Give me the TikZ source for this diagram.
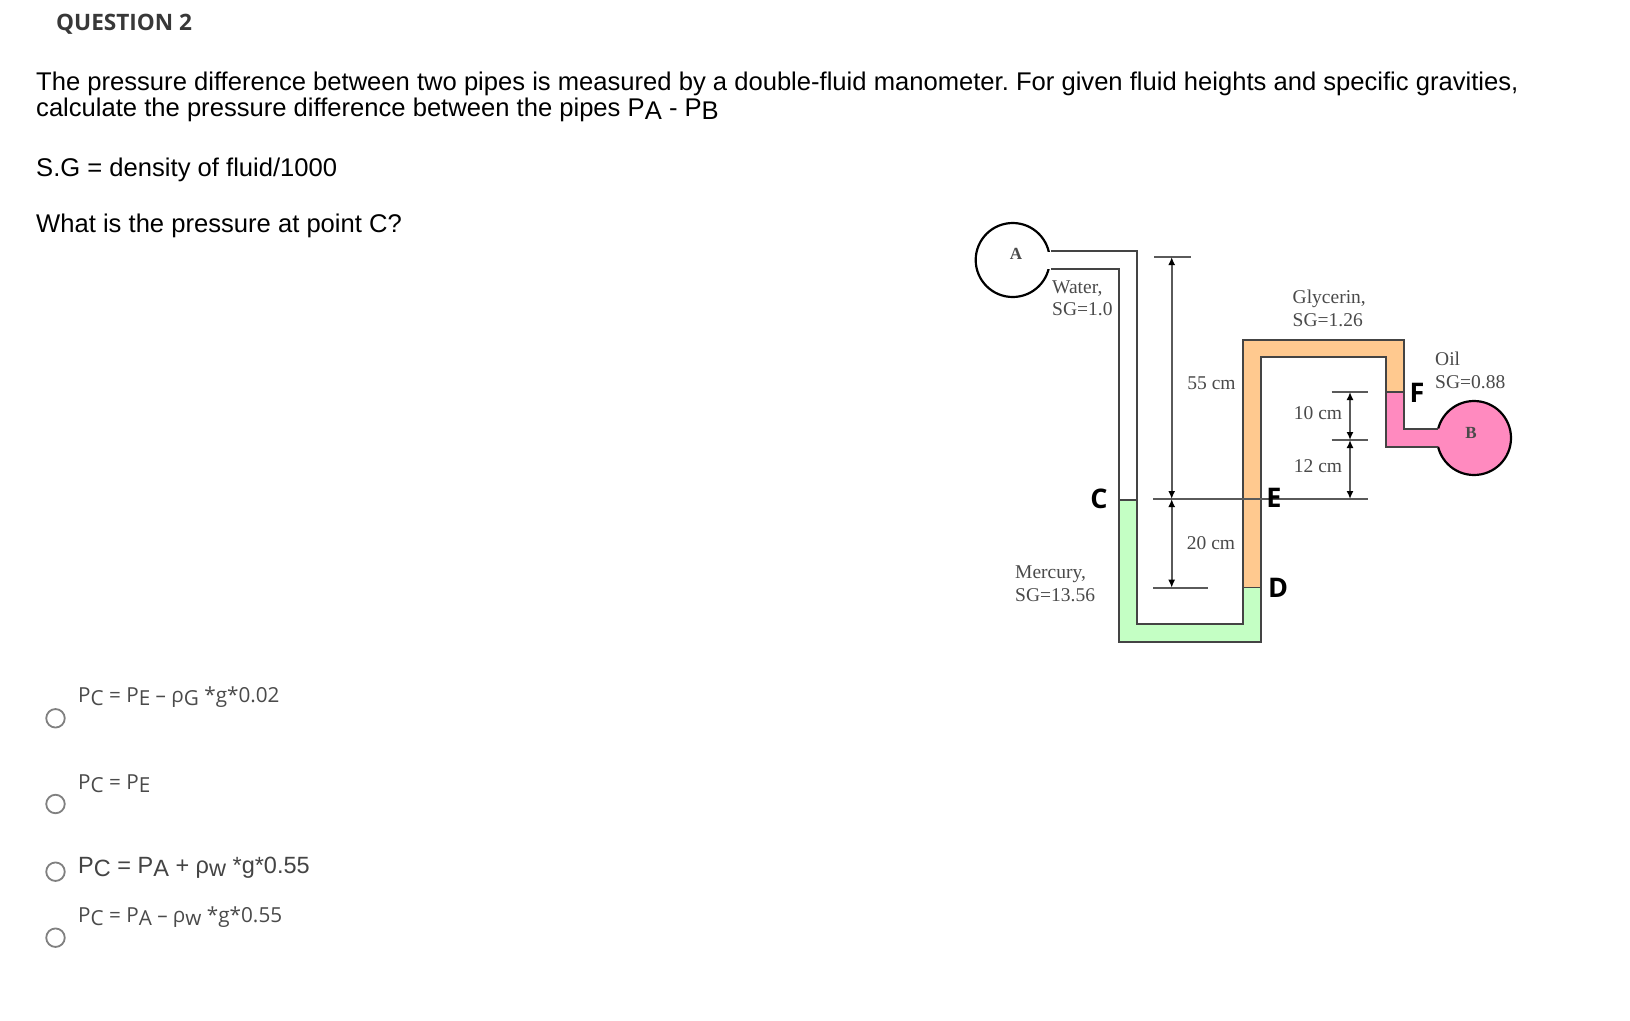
\documentclass[tikz,border=0pt]{standalone}
\usepackage{fontspec}
\setmainfont{Liberation Sans}
\newfontfamily\optfont{Open Sans}
\newfontfamily\serfont{Liberation Serif}
\usetikzlibrary{arrows.meta}
\definecolor{pipegray}{HTML}{444444}
\definecolor{dimgray}{HTML}{5A5A5A}
\definecolor{txtgray}{HTML}{4A4A4A}
\definecolor{mercury}{HTML}{C4FFC4}
\definecolor{glycerin}{HTML}{FFC98F}
\definecolor{oilpink}{HTML}{FF8ABF}
\newcommand{\lowered}[1]{\raisebox{-3.5pt}{#1}}
\frenchspacing
\begin{document}
\begin{tikzpicture}[x=1pt,y=-1pt]
		\tikzstyle{body}=[anchor=base west,inner sep=0pt,font=\fontsize{25.6}{30}\selectfont];
		\tikzstyle{opt}=[anchor=base west,inner sep=0pt,text=txtgray,font=\optfont\fontsize{20.7}{24}\selectfont];
		\tikzstyle{small}=[anchor=base,inner sep=0pt,align=left,text=txtgray,font=\serfont\fontsize{19.5}{22}\selectfont];
		\tikzstyle{smallw}=[small,anchor=base west];
		\tikzstyle{point}=[anchor=base,inner sep=0pt,font=\optfont\bfseries\fontsize{27}{30}\selectfont];
		\tikzstyle{bulb}=[circle,draw=black,line width=2.2pt,minimum size=74pt,inner sep=0pt];
		\tikzstyle{pipe}=[draw=pipegray,line width=1.8pt,line join=miter];
		\tikzstyle{dimen}=[dimgray,line width=1.7pt];
		\tikzstyle{dimarrow}=[dimen,{Latex[length=8pt,width=7pt,black]}-{Latex[length=8pt,width=7pt,black]}];
		\tikzstyle{radio}=[circle,draw=gray,line width=1.8pt,minimum size=18.5pt,inner sep=0pt];

		\useasboundingbox (0,0) rectangle (1630,1020);
		\fill[white] (0,0) rectangle (1630,1020);

		% question text
		\node[anchor=base west,inner sep=0pt,text=black!78,font=\optfont\bfseries\fontsize{22.6}{26}\selectfont] (title) at (56,30) {QUESTION 2};
		\node[body] (line1) at (36,90) {The pressure difference between two pipes is measured by a double-fluid manometer. For given fluid heights and specific gravities,};
		\node[body] (line2) at (36,116) {calculate the pressure difference between the pipes P\lowered{A} - P\lowered{B}};
		\node[body] (sg) at (36,176) {S.G = density of fluid/1000};
		\node[body] (what) at (36,232) {What is the pressure at point C?};

		% bulbs
		\node[bulb,fill=white] (bulbA) at (1012.7,260) {};
		\node[bulb,fill=oilpink] (bulbB) at (1474,438) {};

		% fluids
		\fill[white] (1045,251.5) rectangle (1060,268.5);
		\fill[mercury] (1119,500) -- (1119,641.7) -- (1261,641.7) -- (1261,587.7) -- (1243,587.7) -- (1243,624) -- (1136.7,624) -- (1136.7,500) -- cycle;
		\fill[glycerin] (1243,587.7) -- (1243,340) -- (1404,340) -- (1404,392) -- (1385.7,392) -- (1385.7,357) -- (1261,357) -- (1261,587.7) -- cycle;
		\fill[oilpink] (1385.7,392) -- (1404,392) -- (1404,428.7) -- (1445,428.7) -- (1445,446.7) -- (1385.7,446.7) -- cycle;

		% pipe walls
		\path[pipe] (1051,250.7) -- (1136.7,250.7) -- (1136.7,624) -- (1243,624) -- (1243,340) -- (1404,340) -- (1404,428.7) -- (1438,428.7);
		\path[pipe] (1051,269) -- (1119,269) -- (1119,641.7) -- (1261,641.7) -- (1261,357) -- (1385.7,357) -- (1385.7,446.7) -- (1438,446.7);
		\path[pipe,line width=1.4pt] (1119,500) -- (1136.7,500);
		\path[pipe,line width=1.4pt] (1243,587.7) -- (1261,587.7);
		\path[pipe,line width=1.4pt] (1385.7,392) -- (1404,392);

		% dimension lines
		\coordinate (top55) at (1171.7,257);
		\coordinate (mid55) at (1171.7,499);
		\coordinate (low20) at (1171.7,587.7);
		\coordinate (top10) at (1350,392);
		\coordinate (mid10) at (1350,440);
		\coordinate (low12) at (1350,499);
		\draw[dimen] (1154,257) -- (1190.7,257);
		\draw[dimen] (1153,499) -- (1368,499);
		\draw[dimen] (1153,587.7) -- (1208,587.7);
		\draw[dimen] (1331.7,392) -- (1368,392);
		\draw[dimen] (1331.7,440) -- (1368,440);
		\draw[dimarrow] (top55) -- (mid55);
		\draw[dimarrow] (mid55) -- (low20);
		\draw[dimarrow] (top10) -- (mid10);
		\draw[dimarrow] (mid10) -- (low12);

		% labels
		\node[small,font=\serfont\bfseries\fontsize{17}{20}\selectfont] (labA) at (1016,259) {A};
		\node[small,font=\serfont\bfseries\fontsize{17}{20}\selectfont] (labB) at (1471,438) {B};
		\node[smallw] (water) at (1052,293.5) {Water,};
		\node[smallw] (watersg) at (1052,315.5) {SG=1.0};
		\node[smallw] (gly) at (1292.5,303) {Glycerin,};
		\node[smallw] (glysg) at (1292.5,326) {SG=1.26};
		\node[smallw] (oil) at (1435,365) {Oil};
		\node[smallw] (oilsg) at (1435,388.5) {SG=0.88};
		\node[smallw] (merc) at (1015,578) {Mercury,};
		\node[smallw] (mercsg) at (1015,601.7) {SG=13.56};
		\node[small] (d55) at (1211.5,389.5) {55 cm};
		\node[small] (d20) at (1211,549) {20 cm};
		\node[small] (d10) at (1318,419) {10 cm};
		\node[small] (d12) at (1318,472) {12 cm};
		\node[point] (ptC) at (1099,508) {C};
		\node[point] (ptE) at (1274,507) {E};
		\node[point] (ptD) at (1278,597) {D};
		\node[point] (ptF) at (1417,402) {F};

		% answers
		\foreach \i/\ypos in {1/718.3,2/804,3/871.7,4/937.7}
			\node[radio] (radio\i) at (55.5,\ypos) {};
		\node[opt] (ans1) at (78,702) {P\lowered{C} = P\lowered{E} – ρ\lowered{G} *g*0.02};
		\node[opt] (ans2) at (78,789) {P\lowered{C} = P\lowered{E}};
		\node[opt,text=pipegray,font=\fontsize{23.5}{26}\selectfont] (ans3) at (78,873) {P\lowered{C} = P\lowered{A} + ρ\lowered{w} *g*0.55};
		\node[opt] (ans4) at (78,922) {P\lowered{C} = P\lowered{A} – ρ\lowered{w} *g*0.55};
	\end{tikzpicture}
\end{document}
